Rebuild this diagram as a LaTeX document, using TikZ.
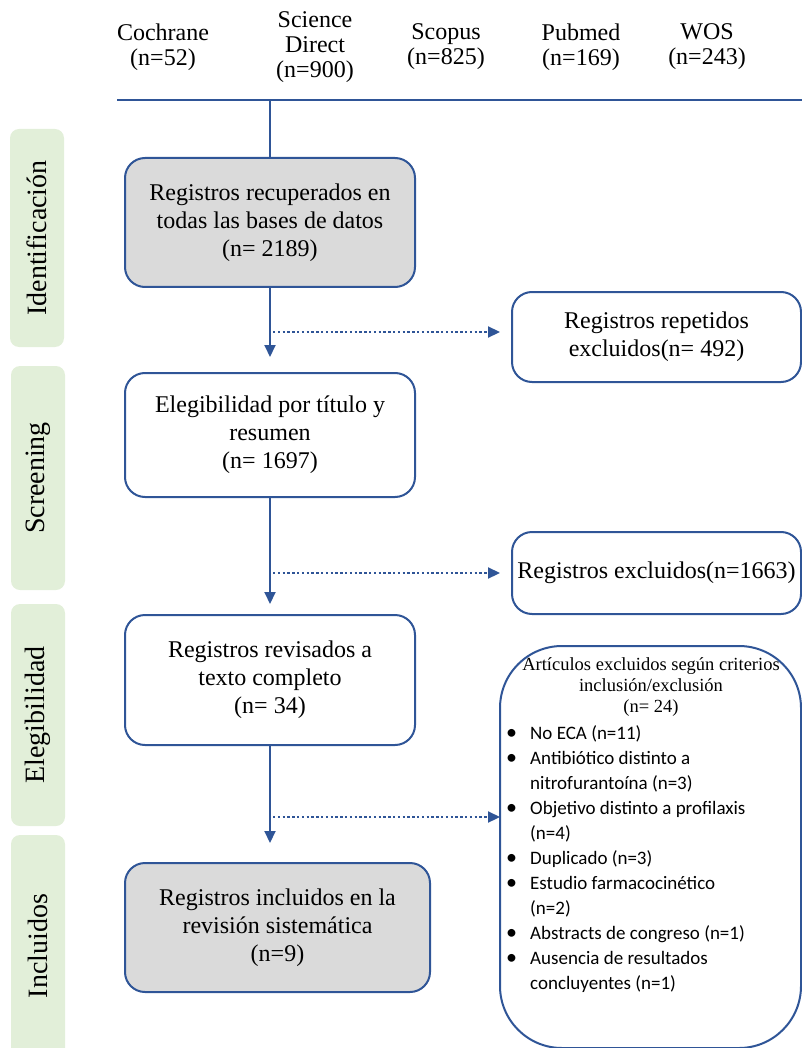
\documentclass[tikz,border=0pt]{standalone}
\usepackage{fontspec}
\setmainfont{Liberation Serif}
\newfontfamily\calib{Carlito}
\usetikzlibrary{arrows.meta}
\definecolor{bl}{HTML}{2F5597}
\definecolor{gr}{HTML}{DADADA}
\definecolor{gn}{HTML}{E2EFD9}
\newcommand{\bul}{\raisebox{0.5pt}{\fontsize{22}{25}\selectfont\textbullet}}
\tikzset{
  box/.style={draw=bl, line width=2pt, rounded corners=20pt, align=center, inner sep=0pt,
    font=\fontsize{24}{28}\selectfont},
  phase/.style={fill=gn, rounded corners=9pt, rotate=90, inner sep=0pt, minimum height=54pt,
    font=\fontsize{28}{30}\selectfont},
  dbase/.style={align=center, inner sep=0pt, font=\fontsize{24}{25}\selectfont},
  mainarr/.style={draw=bl, line width=2pt, -{Triangle[length=12pt,width=11pt]}},
  dotarr/.style={draw=bl, line width=2.2pt, dash pattern=on 2.4pt off 2.4pt, -{Triangle[length=12pt,width=11pt]}},
  conn/.style={draw=bl, line width=2pt}
}
\begin{document}
\begin{tikzpicture}[x=1pt,y=-1pt]
\useasboundingbox (0,0) rectangle (802,1048);
\clip (0,0) rectangle (802,1048);

% database labels
\node[dbase] (coch) at (163,47) {Cochrane\\(n=52)};
\node[dbase] (sd) at (315,47) {Science\\Direct\\(n=900)};
\node[dbase] (scop) at (446,47) {Scopus\\(n=825)};
\node[dbase] (pub) at (581,47) {Pubmed\\(n=169)};
\node[dbase] (wos) at (707,47) {WOS\\(n=243)};

% top line
\coordinate (hl) at (117,100);
\coordinate (hr) at (803,100);
\coordinate (hj) at (270,100);
\draw[conn] (hl) -- (hr);

% phase labels
\node[phase, minimum width=218pt] (ph1) at (37,238) {Identificación};
\node[phase, minimum width=224pt] (ph2) at (38,478) {Screening};
\node[phase, minimum width=222pt] (ph3) at (38,715) {Elegibilidad};
\node[phase, minimum width=222pt] (ph4) at (38,946) {Incluidos};

% main boxes
\node[box, fill=gr, minimum width=290pt, minimum height=129pt] (b1) at (270,222.5)
  {Registros recuperados en\\todas las bases de datos\\(n= 2189)};
\node[box, minimum width=289pt, minimum height=90pt] (b2) at (656.5,337)
  {Registros repetidos\\excluidos(n= 492)};
\node[box, minimum width=290pt, minimum height=124pt] (b3) at (270,435)
  {Elegibilidad por título y\\resumen\\(n= 1697)};
\node[box, minimum width=289pt, minimum height=82pt] (b4) at (656.5,573)
  {Registros excluidos(n=1663)};
\node[box, minimum width=290pt, minimum height=130pt] (b5) at (270,680)
  {Registros revisados a\\texto completo\\(n= 34)};
\node[box, fill=gr, minimum width=305pt, minimum height=129pt] (b7) at (277.5,927.5)
  {Registros incluidos en la\\revisión sistemática\\(n=9)};
\node[box, rounded corners=62pt, minimum width=301pt, minimum height=402pt] (b6) at (650.5,847) {};

% text inside b6
\node[align=center, inner sep=0pt, font=\fontsize{18.5}{21}\selectfont] (b6t) at (651,687)
  {Artículos excluidos según criterios\\inclusión/exclusión\\(n= 24)};
\node[anchor=north west, inner sep=0pt, font=\calib\fontsize{19}{25}\selectfont] (b6l) at (506,722)
  {\begin{tabular}{@{}p{24pt}@{}l@{}}
  \bul & No ECA (n=11)\\
  \bul & Antibiótico distinto a\\
   & nitrofurantoína (n=3)\\
  \bul & Objetivo distinto a profilaxis\\
   & (n=4)\\
  \bul & Duplicado (n=3)\\
  \bul & Estudio farmacocinético\\
   & (n=2)\\
  \bul & Abstracts de congreso (n=1)\\
  \bul & Ausencia de resultados\\
   & concluyentes (n=1)
  \end{tabular}};

% connectors
\draw[conn] (hj) -- (b1.north);

\coordinate (t1) at (270,357);
\coordinate (t2) at (270,604);
\coordinate (t3) at (270,843);
\draw[mainarr] (b1.south) -- (t1);
\draw[mainarr] (b3.south) -- (t2);
\draw[mainarr] (b5.south) -- (t3);

\coordinate (d1) at (273,332);
\coordinate (e1) at (500,332);
\coordinate (d2) at (273,573);
\coordinate (e2) at (500,573);
\coordinate (d3) at (273,817);
\coordinate (e3) at (500,817);
\draw[dotarr] (d1) -- (e1);
\draw[dotarr] (d2) -- (e2);
\draw[dotarr] (d3) -- (e3);
\end{tikzpicture}
\end{document}
